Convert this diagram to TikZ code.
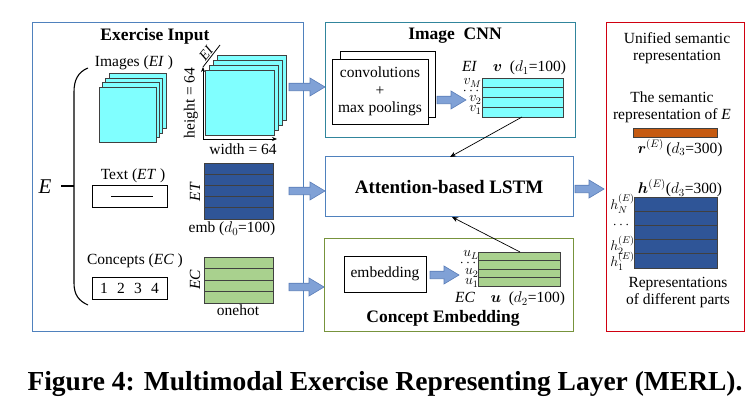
\RequirePackage{fix-cm}
\documentclass[tikz,border=0pt]{standalone}
\usepackage{amsmath}
\usepackage{fontspec}
\setmainfont{Liberation Serif}
\usetikzlibrary{arrows.meta,calc}
\definecolor{exblue}{HTML}{4F81BD}
\definecolor{cnnteal}{HTML}{31859C}
\definecolor{cegreen}{HTML}{77933C}
\definecolor{unired}{HTML}{D00010}
\definecolor{fatc}{HTML}{80A1D6}
\definecolor{fatd}{HTML}{5A7DB8}
\definecolor{cyanf}{HTML}{80FFFF}
\definecolor{dblue}{HTML}{2F5597}
\definecolor{lgreen}{HTML}{A9D18E}
\definecolor{orangef}{HTML}{C55A11}
\definecolor{edge}{HTML}{404040}
\newcommand{\rows}[2]{%
  \foreach \k in {1,...,#2}{\draw[edge,line width=0.8pt] ($(#1.north west)!{\k/(#2+1)}!(#1.south west)$) -- ($(#1.north east)!{\k/(#2+1)}!(#1.south east)$);}}
\begin{document}
\begin{tikzpicture}[x=1pt,y=-1pt,
  font=\fontsize{15.5}{17}\selectfont,
  panel/.style={draw, line width=1pt, inner sep=0pt, outer sep=0pt, anchor=north west},
  plain/.style={draw, line width=0.8pt, fill=white, inner sep=0pt, outer sep=0pt, anchor=north west},
  mat/.style={draw=edge, line width=0.8pt, inner sep=0pt, outer sep=0pt, anchor=north west},
  title/.style={font=\fontsize{17.5}{19}\bfseries},
  small/.style={font=\fontsize{14}{15}\selectfont, inner sep=0.3pt},
  fat/.style={draw=fatd, fill=fatc, line width=0.6pt,
    to path={let \p1=(\tikztostart), \p2=(\tikztotarget) in
      (\x1,\y1+3.75pt) -- (\x2-15pt,\y1+3.75pt) -- (\x2-15pt,\y1+9pt) -- (\x2,\y1)
      -- (\x2-15pt,\y1-9pt) -- (\x2-15pt,\y1-3.75pt) -- (\x1,\y1-3.75pt) -- cycle}},
  thin/.style={line width=0.7pt, -{Stealth[length=6pt,width=5pt]}}]
\useasboundingbox (0,0) rectangle (748,414);

% panels
\node[panel, draw=exblue, minimum width=271pt, minimum height=309pt] (exin) at (32,23) {};
\node[panel, draw=cnnteal, minimum width=250pt, minimum height=115pt] (cnn) at (325,23) {};
\node[panel, draw=exblue, minimum width=248pt, minimum height=60pt] (lstm) at (325,157) {};
\node[panel, draw=cegreen, minimum width=249pt, minimum height=93pt] (cemb) at (324,239) {};
\node[panel, draw=unired, minimum width=138pt, minimum height=309pt] (uni) at (606,23) {};

% Exercise input
\node[title] (extitle) at (155,36) {Exercise Input};
\node (imgl) at (134,63) {Images (\textit{EI} )};
\node (txtl) at (133,176) {Text (\textit{ET} )};
\node (conl) at (135,261) {Concepts (\textit{EC} )};
\node[font=\fontsize{21}{22}\selectfont\itshape] (E) at (45,187) {E};
\draw[line width=1.1pt] (88,68) .. controls (78,72) and (74,80) .. (74,92) -- (74,283) .. controls (74,295) and (79,301) .. (88,305);
\draw[line width=1.1pt] (61,186) -- (74,186);

% left image stack
\foreach \i in {3,2,1,0}{
  \draw[fill=cyanf, draw=edge, line width=0.8pt] ($(99,87)+(3.4*\i,-4.4*\i)$) rectangle ++(57,55);
}
% right image stack
\foreach \i in {3,2,1,0}{
  \draw[fill=cyanf, draw=edge, line width=0.8pt] ($(205,70)+(4*\i,-4.7*\i)$) rectangle ++(69,65);
}
\coordinate (ax0) at (203,139);
\coordinate (axw) at (277,139);
\coordinate (axh) at (203,67);
\coordinate (axd) at (220,45);
\draw[line width=0.8pt, -{Stealth[length=5pt,width=4pt]}] (ax0) -- (axw);
\draw[line width=0.8pt, -{Stealth[length=5pt,width=4pt]}] (ax0) -- (axh);
\draw[line width=0.8pt] (axh) -- (axd);
\node[rotate=90] (hl) at (191,103) {height = 64};
\node (wl) at (243,149) {width = 64};
\node[rotate=51, font=\fontsize{14}{15}\selectfont\itshape] (eil) at (206,53) {EI};

% text box
\node[plain, minimum width=75pt, minimum height=22pt] (tbox) at (92,185) {};
\draw[line width=0.7pt] (111,196) -- (153,196);
% concepts box
\node[plain, minimum width=75pt, minimum height=22pt] (cbox) at (92,277) {};
\node (cnums) at (cbox.center) {1\hspace{0.6em}2\hspace{0.6em}3\hspace{0.6em}4};

% ET matrix
\node[mat, fill=dblue, minimum width=69pt, minimum height=56pt] (etmat) at (204,163) {};
\rows{etmat}{4}
\node[rotate=90, font=\fontsize{15.5}{17}\selectfont\itshape] (etl) at (195,192) {ET};
\node (embl) at (232,229) {emb ($d_0$=100)};
% EC matrix
\node[mat, fill=lgreen, minimum width=69pt, minimum height=46pt] (ecmat) at (204,257) {};
\rows{ecmat}{3}
\node[rotate=90, font=\fontsize{15.5}{17}\selectfont\itshape] (ecl) at (195,280) {EC};
\node (oneh) at (238,310) {onehot};

% Image CNN
\node[title] (cnntitle) at (455,36) {Image\ \ CNN};
\node[plain, minimum width=95pt, minimum height=66pt] (convb) at (340,51) {};
\node[plain, minimum width=96pt, minimum height=65pt] (conv) at (332,59) {};
\node[align=center, font=\fontsize{15.5}{17.5}\selectfont] (convt) at (conv.center) {convolutions\\+\\max poolings};
\node[mat, fill=cyanf, minimum width=81pt, minimum height=39pt] (vmat) at (482,78) {};
\rows{vmat}{3}
\node (vtit) at (514,68) {\textit{EI}\quad$\boldsymbol{v}$\ \ ($d_1$=100)};
\node[small, anchor=east] (vM) at (482,83) {$v_M$};
\node[small, anchor=east] (vd) at (482,91) {$\cdots$};
\node[small, anchor=east] (v2) at (482,100) {$v_2$};
\node[small, anchor=east] (v1) at (482,110) {$v_1$};

% LSTM
\node[font=\fontsize{19}{21}\bfseries] (lstmt) at (lstm.center) {Attention-based LSTM};

% Concept embedding
\node[title] (cetitle) at (443,318) {Concept Embedding};
\node[plain, minimum width=82pt, minimum height=36pt] (emb) at (344,256) {};
\node (embt) at (emb.center) {embedding};
\node[mat, fill=lgreen, minimum width=82pt, minimum height=34pt] (umat) at (478,252) {};
\rows{umat}{3}
\node[small, anchor=east] (uL) at (479,255) {$u_L$};
\node[small, anchor=east] (ud) at (479,263) {$\cdots$};
\node[small, anchor=east] (u2) at (479,273) {$u_2$};
\node[small, anchor=east] (u1) at (479,283) {$u_1$};
\node (utit) at (510,299) {\textit{EC}\quad$\boldsymbol{u}$\ \ ($d_2$=100)};

% Unified
\node[align=center] (unit) at (677,48) {Unified semantic\\representation};
\node[align=center] (semt) at (672,107) {The semantic\\representation of \textit{E}};
\node[mat, fill=orangef, minimum width=84pt, minimum height=9pt] (rbar) at (633,128) {};
\node (rlab) at (680,148) {$\boldsymbol{r}^{(E)}$\,($d_3$=300)};
\node (hlab) at (680,188) {$\boldsymbol{h}^{(E)}$($d_3$=300)};
\node[mat, fill=dblue, minimum width=83pt, minimum height=71pt] (hmat) at (634,197) {};
\rows{hmat}{4}
\node[small, anchor=east] (hN) at (635,204) {$h_N^{(E)}$};
\node[small, anchor=east] (hd) at (632,225) {$\cdots$};
\node[small, anchor=east] (h2) at (635,245) {$h_2^{(E)}$};
\node[small, anchor=east] (h1) at (635,261) {$h_1^{(E)}$};
\node[align=center] (repl) at (678,293) {Representations\\of different parts};

% fat arrows
\coordinate (a1s) at (289,87);
\coordinate (a2s) at (289,191);
\coordinate (a3s) at (289,287);
\draw[fat] (a1s) to (a1s -| cnn.west);
\draw[fat] (a2s) to (a2s -| lstm.west);
\draw[fat] (a3s) to (a3s -| cemb.west);
\coordinate (a4s) at (437,100);
\coordinate (a4e) at (466,100);
\draw[fat] (a4s) to (a4e);
\coordinate (a5s) at (430,275);
\coordinate (a5e) at (459,275);
\draw[fat] (a5s) to (a5e);
\coordinate (a6s) at (575,189);
\coordinate (a6e) at (604,189);
\draw[fat] (a6s) to (a6e);

% thin arrows
\coordinate (vb) at (522,117);
\coordinate (lt) at (450,157);
\draw[thin] (vb) -- (lt);
\coordinate (ut) at (520,252);
\coordinate (lb) at (452,217);
\draw[thin] (ut) -- (lb);

% caption
\node[font=\fontsize{27.5}{29}\bfseries] (cap) at (385,384) {Figure 4: Multimodal Exercise Representing Layer (MERL).};
\end{tikzpicture}
\end{document}
